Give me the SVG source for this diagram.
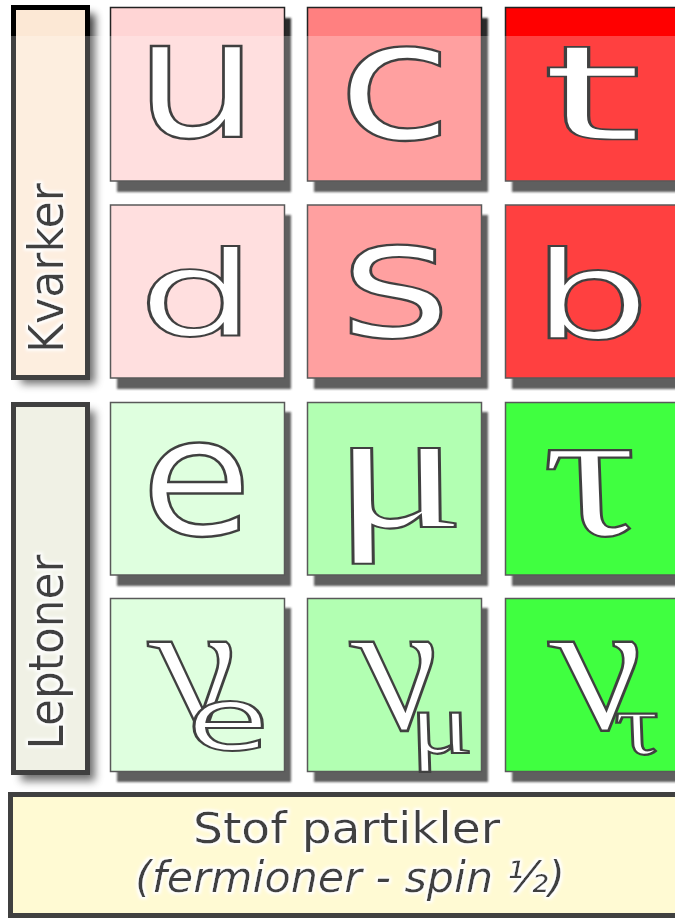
<svg xmlns="http://www.w3.org/2000/svg" width="675" height="918" viewBox="0 0 675 918">
<defs>
<style>
.sq{stroke:#222;stroke-width:1.5}
.sh{fill:#2a2a2a;filter:url(#blur1)}
.bsh{fill:#000;opacity:0.75;filter:url(#blur4)}
.side{stroke:#000;stroke-width:5}
.L{font-family:"DejaVu Sans",sans-serif;fill:#fff;stroke:#000;stroke-width:2.6;text-anchor:middle}
.G{font-family:"Liberation Serif",serif;font-style:italic;fill:#fff;stroke:#000;stroke-width:2.6;text-anchor:middle}
.lab{font-family:"DejaVu Sans",sans-serif;fill:#000;text-anchor:middle;filter:url(#glow)}
</style>
<filter id="blur1" x="-10%" y="-10%" width="120%" height="120%"><feGaussianBlur stdDeviation="1.3"/></filter>
<filter id="blur4" x="-20%" y="-10%" width="140%" height="120%"><feGaussianBlur stdDeviation="4"/></filter>
<filter id="glow" x="-10%" y="-10%" width="120%" height="120%">
<feMorphology in="SourceAlpha" operator="dilate" radius="2" result="d"/>
<feGaussianBlur in="d" stdDeviation="1.5" result="b"/>
<feFlood flood-color="#ffffff" result="f"/>
<feComposite in="f" in2="b" operator="in" result="g"/>
<feMerge><feMergeNode in="g"/><feMergeNode in="SourceGraphic"/></feMerge>
</filter>
</defs>
<rect x="0" y="0" width="675" height="918" fill="#fff"/>

<g id="kvarker">
<rect class="bsh" x="21" y="14" width="74" height="370"/>
<rect class="side" x="13.5" y="7.5" width="74" height="370" fill="#fce8d5"/>
<text class="lab" font-size="48" transform="translate(63,268) rotate(-90)" textLength="170" lengthAdjust="spacingAndGlyphs">Kvarker</text>
</g>
<g id="leptoner">
<rect class="bsh" x="21" y="411" width="74" height="370"/>
<rect class="side" x="13.5" y="404.5" width="74" height="368" fill="#ebeddd"/>
<text class="lab" font-size="48" transform="translate(63,652) rotate(-90)" textLength="195" lengthAdjust="spacingAndGlyphs">Leptoner</text>
</g>

<g id="u">
<rect class="sh" x="117" y="18" width="174" height="174"/>
<rect class="sq" x="110.5" y="7.5" width="174" height="173.5" fill="#ffd5d5"/>
<text class="L" font-size="165" transform="translate(196.7,137) scale(1.19,1)" vector-effect="non-scaling-stroke">u</text>
</g>
<g id="c">
<rect class="sh" x="314" y="18" width="174" height="174"/>
<rect class="sq" x="307.5" y="7.5" width="174" height="173.5" fill="#ff8080"/>
<text class="L" font-size="164" transform="translate(395,139) scale(1.28,1)" vector-effect="non-scaling-stroke">c</text>
</g>
<g id="t">
<rect class="sh" x="512" y="18" width="174" height="174"/>
<rect class="sq" x="505.5" y="7.5" width="174" height="173.5" fill="#ff0000"/>
<text class="L" font-size="132" transform="translate(592,139.5) scale(1.95,1)" vector-effect="non-scaling-stroke">t</text>
</g>

<g id="d">
<rect class="sh" x="117" y="215" width="174" height="174"/>
<rect class="sq" x="110.5" y="205" width="174" height="173" fill="#ffd5d5"/>
<text class="L" font-size="117" transform="translate(197,335.6) scale(1.58,1)" vector-effect="non-scaling-stroke">d</text>
</g>
<g id="s">
<rect class="sh" x="314" y="215" width="174" height="174"/>
<rect class="sq" x="307.5" y="205" width="174" height="173" fill="#ff8080"/>
<text class="L" font-size="164" transform="translate(395.5,337) scale(1.31,1)" vector-effect="non-scaling-stroke">s</text>
</g>
<g id="b">
<rect class="sh" x="512" y="215" width="174" height="174"/>
<rect class="sq" x="505.5" y="205" width="174" height="173" fill="#ff0000"/>
<text class="L" font-size="122" transform="translate(591,337.5) scale(1.52,1)" vector-effect="non-scaling-stroke">b</text>
</g>

<g id="e">
<rect class="sh" x="117" y="412" width="174" height="174"/>
<rect class="sq" x="110.5" y="402.5" width="174" height="172.5" fill="#d5ffd5"/>
<text class="L" font-size="164" transform="translate(196.5,535) scale(1.1,1)" vector-effect="non-scaling-stroke">e</text>
</g>
<g id="mu">
<rect class="sh" x="314" y="412" width="174" height="174"/>
<rect class="sq" x="307.5" y="402.5" width="174" height="172.5" fill="#99ff99"/>
<text class="G" font-size="172" transform="translate(406,527) skewX(15) scale(1.45,1)" vector-effect="non-scaling-stroke">μ</text>
</g>
<g id="tau">
<rect class="sh" x="512" y="412" width="174" height="174"/>
<rect class="sq" x="505.5" y="402.5" width="174" height="172.5" fill="#00ff00"/>
<text class="G" font-size="185" transform="translate(603,535) skewX(15) scale(1.3,1)" vector-effect="non-scaling-stroke">τ</text>
</g>

<g id="nu_e">
<rect class="sh" x="117" y="608" width="174" height="174"/>
<rect class="sq" x="110.5" y="598.5" width="174" height="173" fill="#d5ffd5"/>
<text class="G" font-size="190" transform="translate(210,729) skewX(15) scale(1.0,1)" vector-effect="non-scaling-stroke">ν</text>
<text class="L" font-size="87" transform="translate(228,750) scale(1.55,1)" vector-effect="non-scaling-stroke">e</text>
</g>
<g id="nu_mu">
<rect class="sh" x="314" y="608" width="174" height="174"/>
<rect class="sq" x="307.5" y="598.5" width="174" height="173" fill="#99ff99"/>
<text class="G" font-size="190" transform="translate(412,729) skewX(15) scale(1.0,1)" vector-effect="non-scaling-stroke">ν</text>
<text class="G" font-size="88" transform="translate(445,753) skewX(15) scale(1.35,1)" vector-effect="non-scaling-stroke">μ</text>
</g>
<g id="nu_tau">
<rect class="sh" x="512" y="608" width="174" height="174"/>
<rect class="sq" x="505.5" y="598.5" width="174" height="173" fill="#00ff00"/>
<text class="G" font-size="190" transform="translate(613,729) skewX(15) scale(1.07,1)" vector-effect="non-scaling-stroke">ν</text>
<text class="G" font-size="88" transform="translate(643,754) skewX(15) scale(1.3,1)" vector-effect="non-scaling-stroke">τ</text>
</g>

<g id="stof">
<rect class="side" x="10.5" y="794.5" width="700" height="121" fill="#fff8c5"/>
<text class="lab" font-size="43" x="346.5" y="843" textLength="307" lengthAdjust="spacingAndGlyphs">Stof partikler</text>
<text class="lab" font-size="42" font-style="italic" x="350" y="892" textLength="430" lengthAdjust="spacingAndGlyphs">(fermioner - spin ½)</text>
</g>

<g id="connectors"/>

<rect x="0" y="36" width="675" height="882" fill="#fff" opacity="0.25"/>
</svg>
